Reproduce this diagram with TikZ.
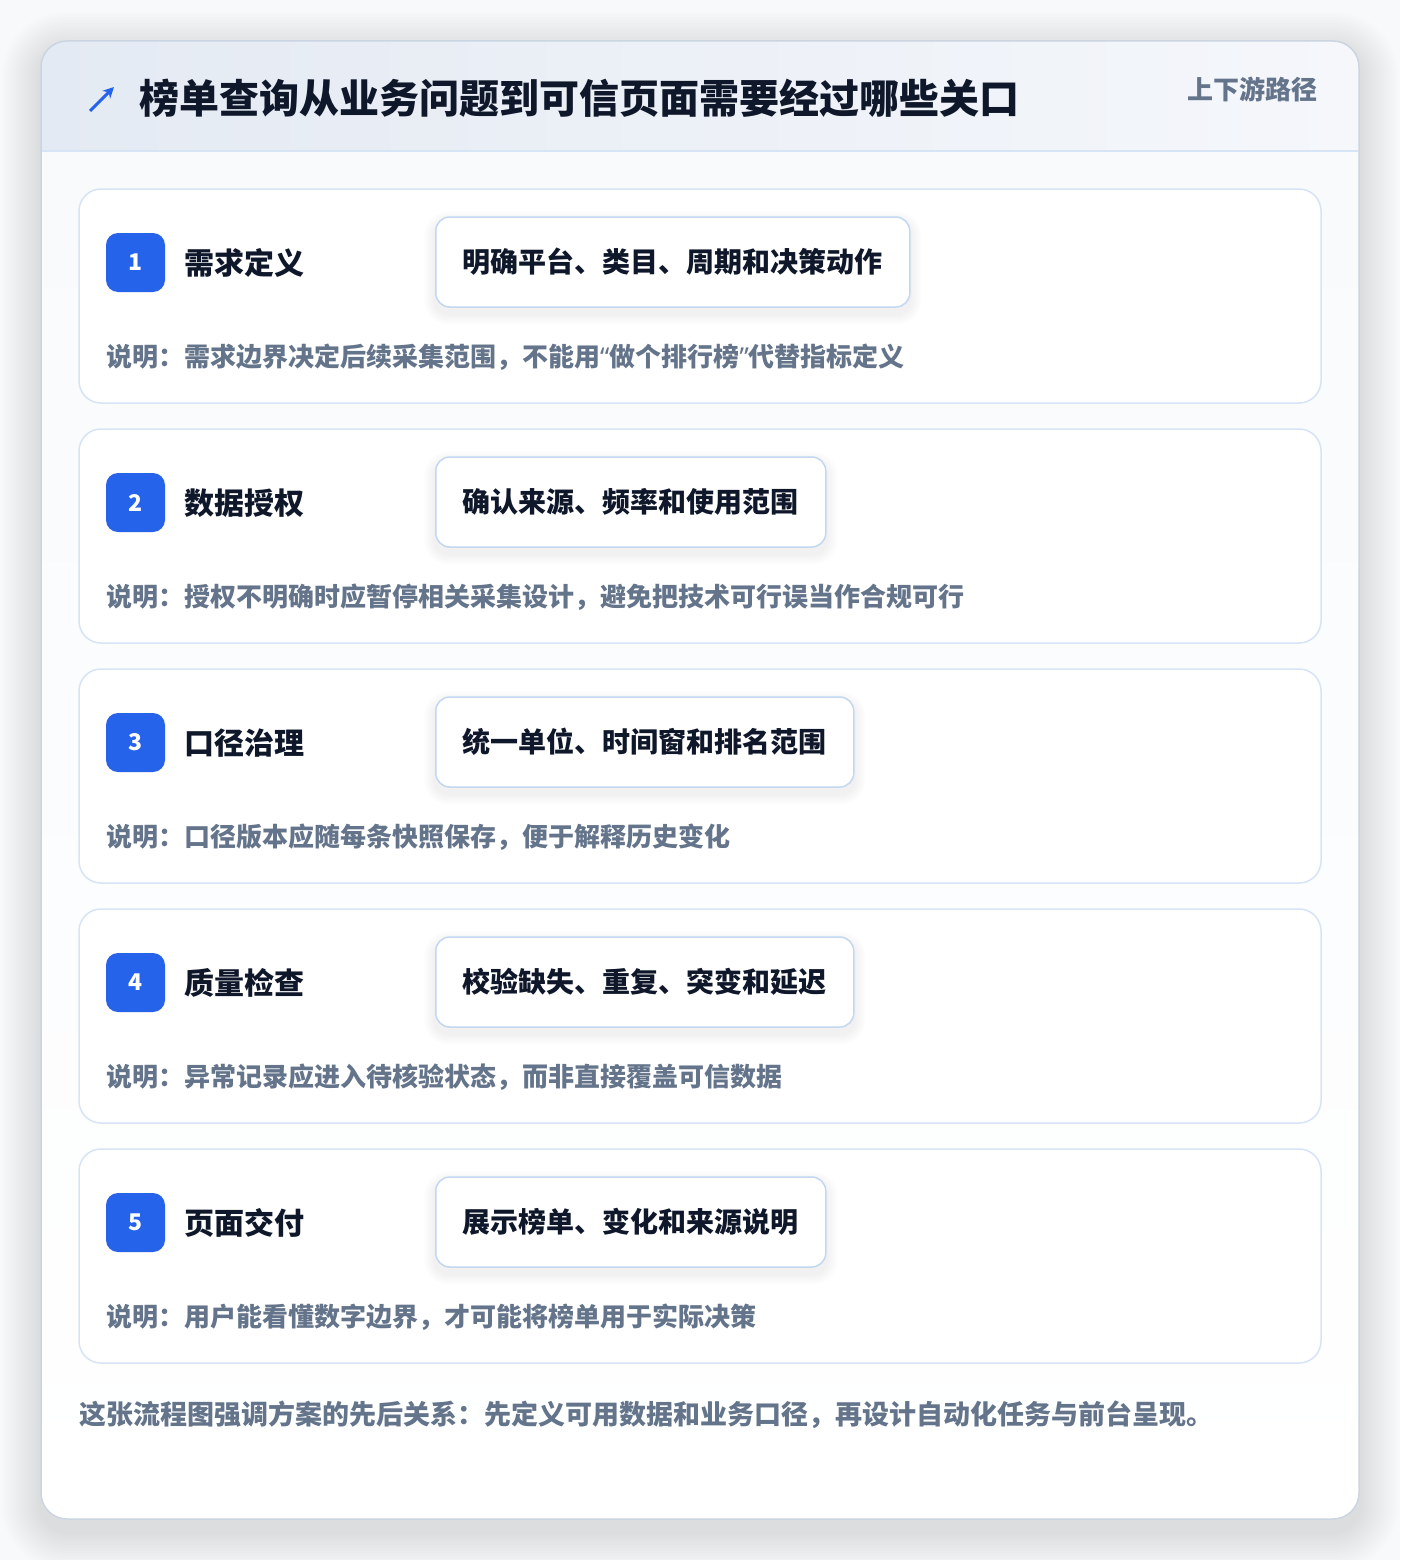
\documentclass[tikz,border=0pt]{standalone}
\usepackage{fontspec}
\setmainfont{Noto Sans CJK SC}
\newfontfamily\latinq{Noto Sans}
\usetikzlibrary{arrows.meta}
\definecolor{pagebg}{HTML}{F8F9FB}
\definecolor{outerline}{HTML}{CBD5E1}
\definecolor{bodyA}{HTML}{F8FAFC}
\definecolor{bodyB}{HTML}{FFFFFF}
\definecolor{headA}{HTML}{E4EAF3}
\definecolor{headB}{HTML}{F5F7FB}
\definecolor{headline}{HTML}{D6E4F5}
\definecolor{cardline}{HTML}{D6E4F5}
\definecolor{pillline}{HTML}{C3D7F0}
\definecolor{ink}{HTML}{0F172A}
\definecolor{muted}{HTML}{64748B}
\definecolor{accent}{HTML}{2563EB}
\tikzset{
  cardbox/.style={draw=cardline, line width=1.5pt, fill=white, rounded corners=22pt},
  badge/.style={fill=accent, rounded corners=12pt, minimum width=59pt, minimum height=59pt, inner sep=0pt, text=white, font=\fontsize{23}{23}\selectfont\bfseries},
  steptitle/.style={anchor=west, inner sep=0pt, text=ink, font=\fontsize{30}{30}\selectfont\bfseries},
  pill/.style={anchor=west, draw=pillline, line width=1.5pt, fill=white, rounded corners=14pt, inner xsep=27pt, inner ysep=0pt, minimum height=90pt, text=ink, font=\fontsize{28}{28}\selectfont\bfseries},
  note/.style={anchor=west, inner sep=0pt, text=muted, font=\fontsize{26}{26}\selectfont\bfseries},
  softshadow/.style={fill=black, fill opacity=#1},
}
\newcommand{\myoq}{{\latinq\bfseries“}}
\newcommand{\mycq}{{\latinq\bfseries”}}
\begin{document}
\begin{tikzpicture}[x=1pt, y=-1pt]
\useasboundingbox (0,0) rectangle (1400,1560);
\fill[pagebg] (0,0) rectangle (1400,1560);
% outer card shadow
\foreach \i in {1,...,14}{
  \pgfmathsetmacro{\e}{2.8*\i}
  \fill[softshadow=0.0065, rounded corners=26pt+\e] (41-\e,51-\e) rectangle (1359+\e,1531+\e);
}
% outer card
\begin{scope}
\clip[rounded corners=26pt] (41,41) rectangle (1359,1519);
\shade[top color=bodyA, bottom color=bodyB] (41,151) rectangle (1359,1519);
\shade[left color=headA, right color=headB] (41,41) rectangle (1359,151);
\end{scope}
\draw[headline, line width=1.5pt] (42,151) -- (1358,151);
\draw[outerline, line width=1.5pt, rounded corners=26pt] (41,41) rectangle (1359,1519);
% header
\coordinate (arA) at (90,111);
\coordinate (arB) at (114,87);
\draw[accent, line width=3pt, -{Stealth[length=11pt, width=11pt]}] (arA) -- (arB);
\node[anchor=west, inner sep=0pt, text=ink, font=\fontsize{40}{40}\selectfont\bfseries] (title) at (139,98) {榜单查询从业务问题到可信页面需要经过哪些关口};
\node[anchor=east, inner sep=0pt, text=muted, font=\fontsize{26}{26}\selectfont\bfseries] (sub) at (1318,89) {上下游路径};
% cards
\foreach \n/\t/\p/\s in {
 1/需求定义/明确平台、类目、周期和决策动作/说明：需求边界决定后续采集范围，不能用\myoq 做个排行榜\mycq 代替指标定义,
 2/数据授权/确认来源、频率和使用范围/说明：授权不明确时应暂停相关采集设计，避免把技术可行误当作合规可行,
 3/口径治理/统一单位、时间窗和排名范围/说明：口径版本应随每条快照保存，便于解释历史变化,
 4/质量检查/校验缺失、重复、突变和延迟/说明：异常记录应进入待核验状态，而非直接覆盖可信数据,
 5/页面交付/展示榜单、变化和来源说明/说明：用户能看懂数字边界，才可能将榜单用于实际决策}{
  \pgfmathsetmacro{\dy}{240*(\n-1)}
  \path[cardbox] (79,189+\dy) rectangle (1321,403+\dy);
  \node[badge] (badge\n) at (135.5,262.5+\dy) {\n};
  \node[steptitle] (title\n) at (184,263+\dy) {\t};
  \node[pill, draw=none, fill=none, text opacity=0] (ghost\n) at (435,262+\dy) {\p};
  \foreach \k in {1,...,7}{
    \pgfmathsetmacro{\e}{1.6*\k}
    \fill[softshadow=0.006, rounded corners=14pt+\e] ([xshift=-\e, yshift=-6+\e]ghost\n.north west) rectangle ([xshift=\e, yshift=-6-\e]ghost\n.south east);
  }
  \node[pill] (pill\n) at (435,262+\dy) {\p};
  \node[note] (note\n) at (106,357+\dy) {\s};
}
\node[anchor=west, inner sep=0pt, text=muted, font=\fontsize{27}{27}\selectfont\bfseries] (footer) at (79,1415) {这张流程图强调方案的先后关系：先定义可用数据和业务口径，再设计自动化任务与前台呈现。};
\end{tikzpicture}
\end{document}
